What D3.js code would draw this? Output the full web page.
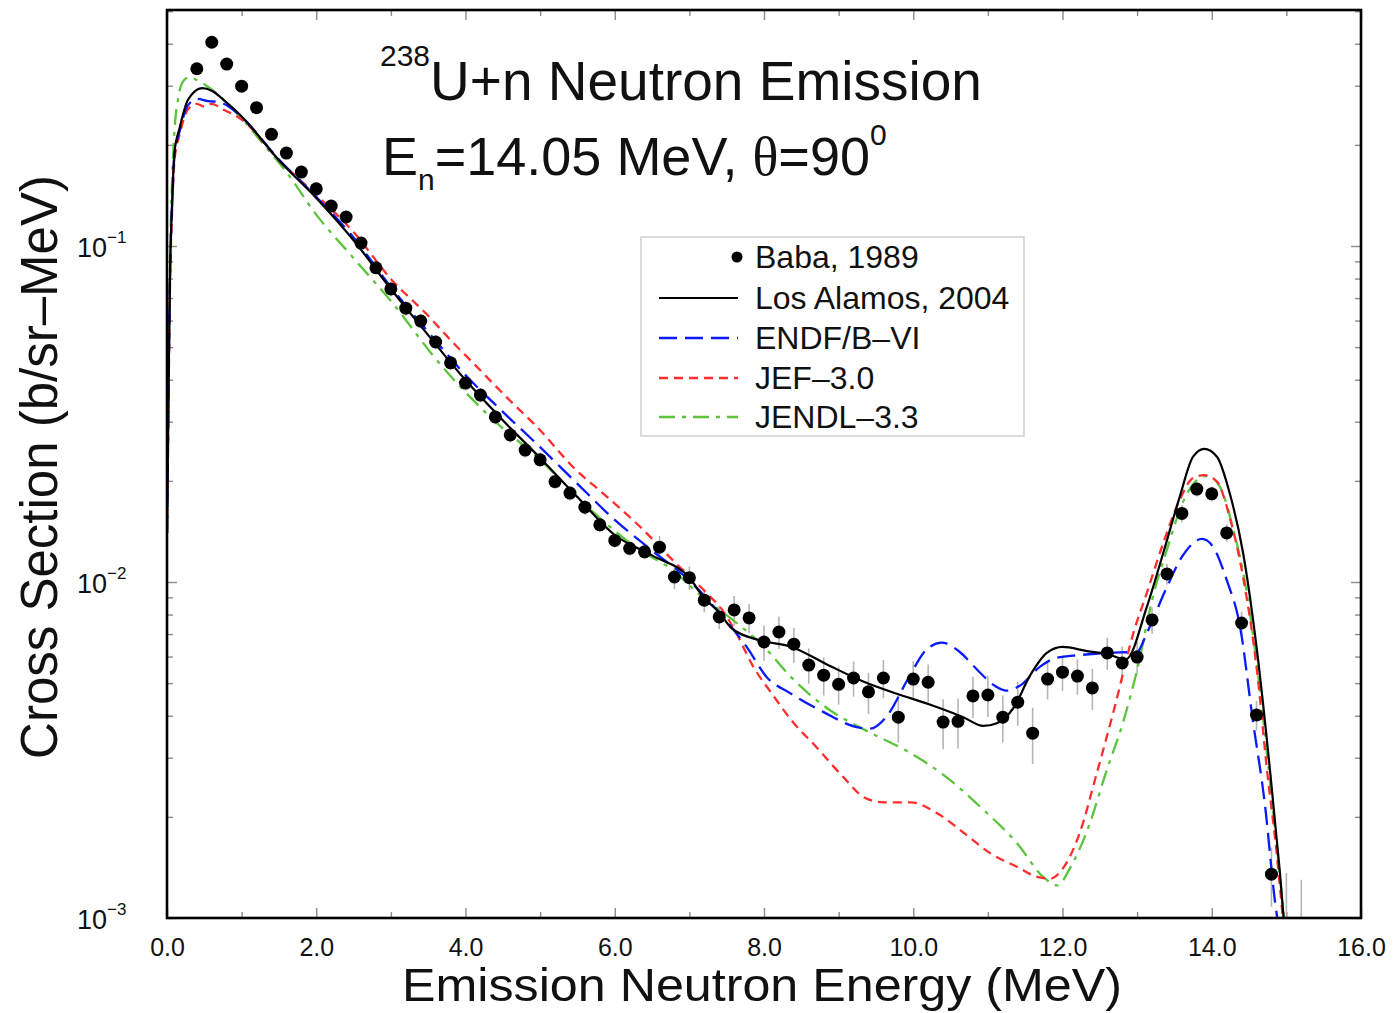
<!DOCTYPE html>
<html><head><meta charset="utf-8">
<script src="https://cdn.jsdelivr.net/npm/d3@7"></script>
<style>
body{margin:0;background:#fff}
svg{display:block}
text{font-family:"Liberation Sans",Arial,Helvetica,sans-serif;fill:#111}
</style>
</head><body>
<svg id="chart" width="1399" height="1013"></svg>
<script>
// ---------- data ----------
const xMajorTicks = [0, 2, 4, 6, 8, 10, 12, 14, 16];
const xMinorTicks = [1, 3, 5, 7, 9, 11, 13, 15];
const yMajorTicks = [1e-3, 1e-2, 1e-1];
const yTickExponents = ["\u22123", "\u22122", "\u22121"];

const babaE = [0.4,0.6,0.8,1.0,1.2,1.4,1.6,1.8,2.0,2.2,2.4,2.6,2.8,3.0,3.2,3.4,3.6,3.8,4.0,4.2,4.4,4.6,4.8,5.0,5.2,5.4,5.6,5.8,6.0,6.2,6.4,6.6,6.8,7.0,7.2,7.4,7.6,7.8,8.0,8.2,8.4,8.6,8.8,9.0,9.2,9.4,9.6,9.8,10.0,10.2,10.4,10.6,10.8,11.0,11.2,11.4,11.6,11.8,12.0,12.2,12.4,12.6,12.8,13.0,13.2,13.4,13.6,13.8,14.0,14.2,14.4,14.6,14.8,15.0,15.2];
const babaV = [0.337,0.404,0.348,0.299,0.258,0.215,0.189,0.166,0.148,0.1315,0.122,0.102,0.0861,0.0745,0.0653,0.0598,0.0518,0.0449,0.0391,0.0360,0.0310,0.0274,0.0247,0.0231,0.0199,0.0184,0.0167,0.0148,0.0133,0.0126,0.0123,0.0127,0.01035,0.0103,0.00883,0.00787,0.00826,0.00782,0.00663,0.00710,0.00653,0.00566,0.00528,0.00496,0.00518,0.00471,0.00518,0.00396,0.00514,0.00503,0.00383,0.00385,0.00458,0.00461,0.00396,0.00439,0.00355,0.00514,0.00539,0.00525,0.00484,0.00615,0.00574,0.00598,0.00771,0.01057,0.0160,0.0189,0.0183,0.0140,0.00755,0.00402,0.00135,0.0006,0.0005];
const babaRelErr = [0.03,0.03,0.03,0.03,0.03,0.03,0.03,0.03,0.03,0.03,0.03,0.03,0.03,
  0.05,0.05,0.05,0.05,0.05,0.05,0.05,0.05,0.05,0.05,0.05,0.05,0.05,0.05,0.05,0.05,0.05,0.05,
  0.08,0.08,0.08,0.08,0.08,
  0.10,0.10,0.12,0.11,0.12,0.12,0.13,0.13,0.12,0.14,0.13,0.16,0.13,0.13,0.17,0.17,0.14,0.14,0.16,0.15,0.19,0.13,0.12,0.12,0.14,0.11,0.12,0.11,
  0.09,0.07,0.06,0.05,0.05,0.06,0.08,0.10,0.20,
  1.27,1.6];

const lanlE = [0,0.01,0.025,0.04,0.07,0.1,0.17,0.28,0.47,0.6,0.8,1.0,1.5,2.0,2.5,3.0,3.5,4.0,4.5,5.0,5.5,6.0,6.5,7.0,7.2,7.4,7.56,7.95,8.35,8.9,9.33,9.78,10.22,10.67,10.94,11.12,11.34,11.57,11.79,12.0,12.33,12.6,12.85,13.13,13.35,13.57,13.75,13.9,14.07,14.24,14.42,14.61,14.78,14.91,15.0];
const lanlV = [0.014,0.022,0.045,0.08,0.137,0.19,0.225,0.272,0.295,0.29,0.267,0.243,0.180,0.139,0.104,0.0745,0.0543,0.0399,0.0303,0.0234,0.0179,0.0138,0.0120,0.0103,0.00895,0.00812,0.0073,0.0067,0.00643,0.0056,0.00506,0.00465,0.00432,0.00396,0.00373,0.0038,0.00421,0.00529,0.00615,0.00641,0.00623,0.0061,0.00589,0.00843,0.0122,0.0179,0.0236,0.0249,0.0236,0.0184,0.0122,0.00615,0.00276,0.00139,0.0008];

const endfE = [0,0.01,0.025,0.04,0.07,0.1,0.17,0.28,0.4,0.55,0.7,0.85,1.0,1.5,2.0,2.5,3.0,3.5,4.0,4.5,5.0,5.5,6.0,6.5,7.0,7.4,7.77,8.04,8.35,8.8,9.24,9.42,9.65,9.92,10.18,10.38,10.62,10.85,11.1,11.25,11.42,11.7,11.92,12.23,12.58,13.0,13.13,13.4,13.6,13.87,14.02,14.2,14.38,14.55,14.71,14.85,14.95];
const endfV = [0.014,0.022,0.045,0.08,0.135,0.185,0.22,0.262,0.274,0.27,0.268,0.258,0.242,0.181,0.140,0.106,0.0755,0.0555,0.0413,0.0321,0.0252,0.0196,0.0153,0.0124,0.0101,0.0081,0.0064,0.0052,0.00467,0.0041,0.0037,0.00366,0.0040,0.0051,0.0063,0.0066,0.0062,0.0055,0.0049,0.00475,0.0049,0.0056,0.00595,0.00606,0.00615,0.0062,0.00705,0.00967,0.01187,0.01343,0.0127,0.01014,0.00735,0.00388,0.0022,0.00111,0.0008];

const jefE = [0,0.01,0.025,0.04,0.07,0.1,0.17,0.28,0.4,0.5,0.6,0.75,1.0,1.5,2.0,2.5,3.0,3.5,3.8,4.1,4.55,5.0,5.44,5.9,6.34,6.78,7.23,7.45,7.62,7.86,8.1,8.4,8.7,9.06,9.35,9.6,9.96,10.32,10.68,11.03,11.39,11.69,11.84,11.99,12.23,12.46,12.7,12.95,13.13,13.35,13.57,13.75,13.9,14.07,14.24,14.42,14.61,14.74,14.87,14.97];
const jefV = [0.014,0.021,0.042,0.075,0.13,0.18,0.215,0.255,0.265,0.26,0.265,0.255,0.238,0.180,0.142,0.110,0.0798,0.0620,0.0525,0.0449,0.0355,0.0283,0.0220,0.0179,0.0146,0.0116,0.00928,0.0082,0.0071,0.00558,0.00467,0.0038,0.00323,0.00263,0.00228,0.00221,0.00221,0.00205,0.00179,0.00156,0.00142,0.00132,0.00131,0.00139,0.00179,0.0027,0.00425,0.00705,0.00928,0.01306,0.01754,0.0204,0.0208,0.0199,0.01561,0.01034,0.00536,0.00276,0.00156,0.0009];

const jendlE = [0,0.01,0.025,0.04,0.07,0.1,0.15,0.22,0.3,0.4,0.53,0.8,1.0,1.3,1.6,2.0,2.5,3.0,3.66,4.33,5.0,5.64,6.3,6.78,7.2,7.45,8.0,8.4,8.88,9.35,9.96,10.44,10.9,11.39,11.75,11.93,12.11,12.35,12.58,12.82,13.0,13.2,13.41,13.61,13.8,13.94,14.11,14.28,14.47,14.65,14.81,14.98];
const jendlV = [0.014,0.024,0.05,0.09,0.16,0.22,0.275,0.31,0.318,0.312,0.30,0.267,0.24,0.20,0.166,0.124,0.092,0.0686,0.0445,0.031,0.0231,0.0167,0.0126,0.01083,0.00891,0.00812,0.00641,0.00511,0.00416,0.00363,0.0031,0.00263,0.00214,0.00167,0.00132,0.00125,0.00142,0.00187,0.0027,0.00388,0.00547,0.00883,0.0127,0.0172,0.0201,0.0207,0.0192,0.0146,0.00928,0.00467,0.0022,0.00095];

const seriesNames = ["Baba, 1989", "Los Alamos, 2004", "ENDF/B\u2013VI", "JEF\u20133.0", "JENDL\u20133.3"];

// ---------- layout ----------
const L = 167, R = 1361, T = 10, B = 918;
const svg = d3.select("#chart");
const x = d3.scaleLinear().domain([0, 16]).range([L, R]);
const y = d3.scaleLog().domain([1e-3, 0.504]).range([B, T]);

svg.append("defs").append("clipPath").attr("id", "plotclip")
  .append("rect").attr("x", L).attr("y", T).attr("width", R - L).attr("height", B - T);

// ---------- axes / ticks ----------
const tickColor = "#8a8a8a";
function styleAxis(g) {
  g.select(".domain").remove();
  g.selectAll(".tick line").attr("stroke", tickColor).attr("stroke-width", 1.4);
}
const yMinor = y.ticks().filter(v => !yMajorTicks.some(m => Math.abs(m - v) / m < 1e-6));

svg.append("g").attr("transform", `translate(0,${B})`)
  .call(d3.axisBottom(x).tickValues(xMajorTicks).tickSizeInner(-10).tickSizeOuter(0).tickPadding(20).tickFormat(d3.format(".1f")))
  .call(styleAxis)
  .call(g => g.selectAll("text").attr("font-size", 25).attr("font-family", '"Liberation Sans",Arial,sans-serif').attr("fill", "#111"));
svg.append("g").attr("transform", `translate(0,${B})`)
  .call(d3.axisBottom(x).tickValues(xMinorTicks).tickSizeInner(-6).tickSizeOuter(0).tickFormat(""))
  .call(styleAxis);
svg.append("g").attr("transform", `translate(0,${T})`)
  .call(d3.axisTop(x).tickValues(xMajorTicks).tickSizeInner(-10).tickSizeOuter(0).tickFormat(""))
  .call(styleAxis);
svg.append("g").attr("transform", `translate(0,${T})`)
  .call(d3.axisTop(x).tickValues(xMinorTicks).tickSizeInner(-6).tickSizeOuter(0).tickFormat(""))
  .call(styleAxis);
svg.append("g").attr("transform", `translate(${L},0)`)
  .call(d3.axisLeft(y).tickValues(yMajorTicks).tickSizeInner(-10).tickSizeOuter(0).tickFormat(""))
  .call(styleAxis);
svg.append("g").attr("transform", `translate(${L},0)`)
  .call(d3.axisLeft(y).tickValues(yMinor).tickSizeInner(-6).tickSizeOuter(0).tickFormat(""))
  .call(styleAxis);
svg.append("g").attr("transform", `translate(${R},0)`)
  .call(d3.axisRight(y).tickValues(yMajorTicks).tickSizeInner(-10).tickSizeOuter(0).tickFormat(""))
  .call(styleAxis);
svg.append("g").attr("transform", `translate(${R},0)`)
  .call(d3.axisRight(y).tickValues(yMinor).tickSizeInner(-6).tickSizeOuter(0).tickFormat(""))
  .call(styleAxis);

// y tick labels 10^n
yMajorTicks.forEach((v, i) => {
  const t = svg.append("text").attr("x", 77).attr("y", y(v) + 11).attr("font-size", 27);
  t.append("tspan").text("10");
  t.append("tspan").attr("font-size", 17).attr("dy", -14).text(yTickExponents[i]);
});

// ---------- data marks ----------
const plot = svg.append("g").attr("clip-path", "url(#plotclip)");
const baba = babaE.map((e, i) => ({ e, v: babaV[i], r: babaRelErr[i] }));

plot.append("g").selectAll("line").data(baba).join("line")
  .attr("x1", d => x(d.e)).attr("x2", d => x(d.e))
  .attr("y1", d => y(Math.max(d.v * (1 - d.r), 1e-4)))
  .attr("y2", d => y(d.v * (1 + d.r)))
  .attr("stroke", "#b5b5b5").attr("stroke-width", 1.6);

const lineGen = d3.line().x(d => x(d[0])).y(d => y(d[1])).curve(d3.curveMonotoneX);
const curves = [
  { E: jendlE, V: jendlV, color: "#5cc43c", dash: "16,7,4,7", w: 2.3 },
  { E: jefE, V: jefV, color: "#ff2d2d", dash: "9,6", w: 2.3 },
  { E: endfE, V: endfV, color: "#0a1aff", dash: "18,8", w: 2.3 },
  { E: lanlE, V: lanlV, color: "#000", dash: null, w: 2.2 }
];
curves.forEach(c => {
  plot.append("path").datum(c.E.map((e, i) => [e, c.V[i]]))
    .attr("d", lineGen).attr("fill", "none")
    .attr("stroke", c.color).attr("stroke-width", c.w)
    .attr("stroke-dasharray", c.dash).attr("stroke-linejoin", "round");
});

plot.append("g").selectAll("circle").data(baba).join("circle")
  .attr("cx", d => x(d.e)).attr("cy", d => y(d.v)).attr("r", 6.5).attr("fill", "#000");

// frame
svg.append("rect").attr("x", L).attr("y", T).attr("width", R - L).attr("height", B - T)
  .attr("fill", "none").attr("stroke", "#000").attr("stroke-width", 2.6);

// ---------- title ----------
const t1 = svg.append("text").attr("x", 380).attr("y", 100).attr("font-size", 55);
t1.append("tspan").attr("font-size", 30).attr("dy", -34).text("238");
t1.append("tspan").attr("dy", 34).text("U+n Neutron Emission");

const t2 = svg.append("text").attr("x", 382).attr("y", 175).attr("font-size", 54);
t2.append("tspan").text("E");
t2.append("tspan").attr("font-size", 30).attr("dy", 15).text("n");
t2.append("tspan").attr("dy", -15).text("=14.05 MeV, ");
t2.append("tspan").attr("font-family", '"Liberation Serif","Times New Roman",serif').text("\u03B8");
t2.append("tspan").text("=90");
t2.append("tspan").attr("font-size", 30).attr("dy", -30).text("0");

// ---------- axis titles ----------
svg.append("text").attr("x", 402).attr("y", 1001)
  .attr("font-size", 46).attr("textLength", 720).attr("lengthAdjust", "spacingAndGlyphs")
  .text("Emission Neutron Energy (MeV)");
svg.append("text").attr("transform", "translate(57,467) rotate(-90)").attr("text-anchor", "middle")
  .attr("font-size", 51).text("Cross Section (b/sr\u2013MeV)");

// ---------- legend ----------
const lg = svg.append("g");
lg.append("rect").attr("x", 641).attr("y", 237).attr("width", 383).attr("height", 199)
  .attr("fill", "#fff").attr("stroke", "#cfcfcf").attr("stroke-width", 1.5);
const rowsY = [257, 298, 338, 378, 417];
lg.append("circle").attr("cx", 737).attr("cy", rowsY[0]).attr("r", 5.5).attr("fill", "#000");
const legendCurves = [curves[3], curves[2], curves[1], curves[0]];
legendCurves.forEach((c, i) => {
  lg.append("line").attr("x1", 659).attr("x2", 738).attr("y1", rowsY[i + 1]).attr("y2", rowsY[i + 1])
    .attr("stroke", c.color).attr("stroke-width", c.w).attr("stroke-dasharray", c.dash);
});
seriesNames.forEach((n, i) => {
  lg.append("text").attr("x", 755).attr("y", rowsY[i] + 11).attr("font-size", 32).text(n);
});
</script>
</body></html>
